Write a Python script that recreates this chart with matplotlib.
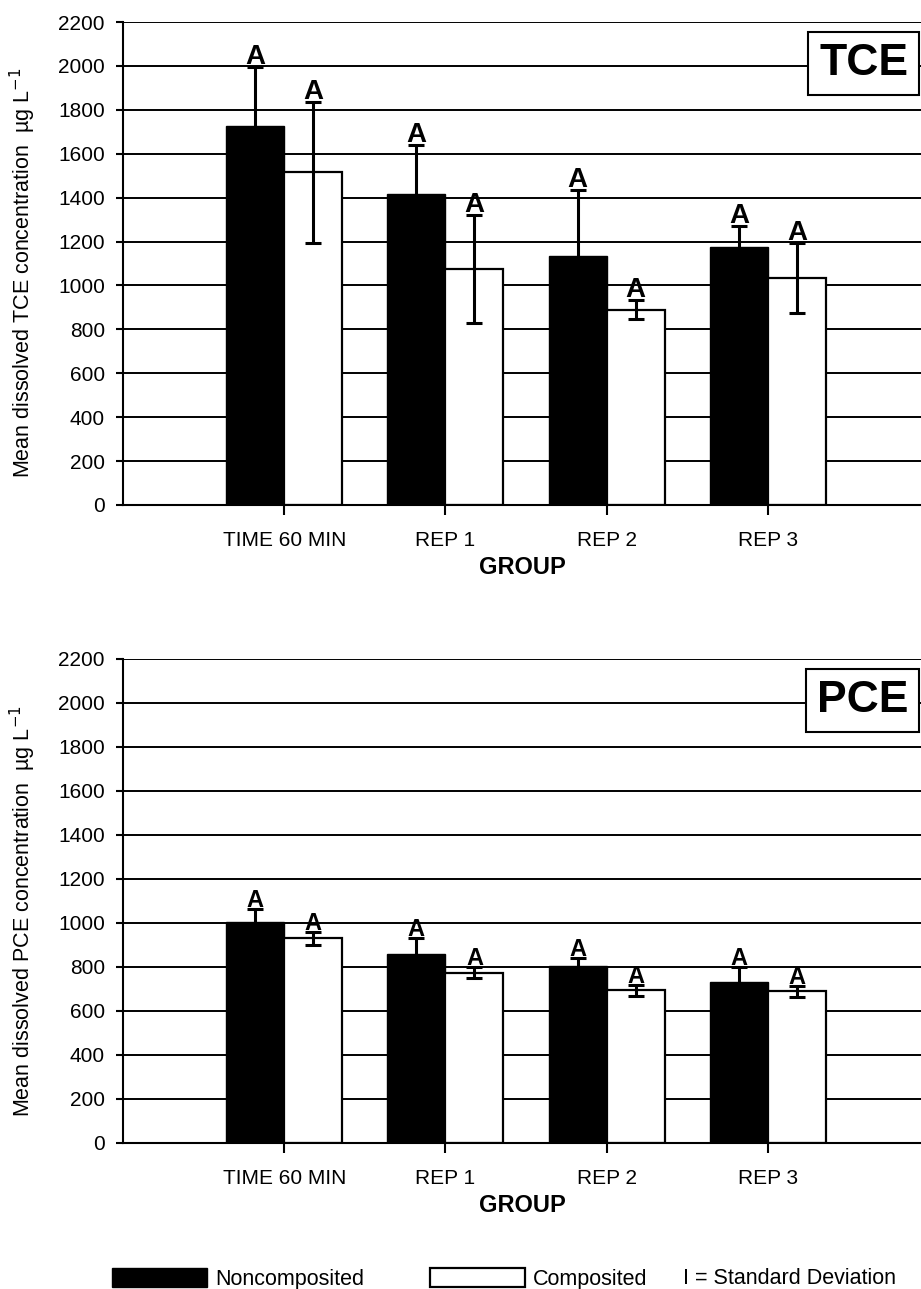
import matplotlib
matplotlib.use("Agg")
import matplotlib.pyplot as plt
import numpy as np

plt.rcParams['font.family'] = ['Liberation Sans', 'DejaVu Sans']

groups = ["TIME 60 MIN", "REP 1", "REP 2", "REP 3"]

tce_non = [1727, 1417, 1134, 1175]
tce_non_sd = [270, 225, 300, 95]
tce_comp = [1515, 1075, 890, 1034]
tce_comp_sd = [320, 245, 45, 160]

pce_non = [1005, 860, 805, 730]
pce_non_sd = [60, 70, 35, 70]
pce_comp = [930, 775, 695, 690]
pce_comp_sd = [30, 25, 25, 25]

letters = "A"

fig = plt.figure(figsize=(9.21, 12.89), dpi=100)
W, H = 921, 1289


def panel(rect, non, non_sd, comp, comp_sd, name, asize):
    ax = fig.add_axes(rect)
    x = np.arange(1, len(groups) + 1)
    w = 0.36
    b1 = ax.bar(x - w / 2, non, w, color='black', edgecolor='black', zorder=2)
    b2 = ax.bar(x + w / 2, comp, w, color='white', edgecolor='black', linewidth=1.6, zorder=2)
    ax.errorbar(x - w / 2, non, yerr=non_sd, fmt='none', ecolor='black',
                elinewidth=2.2, capsize=6, capthick=2.2, zorder=3)
    ax.errorbar(x + w / 2, comp, yerr=comp_sd, fmt='none', ecolor='black',
                elinewidth=2.2, capsize=6, capthick=2.2, zorder=3)
    for xi, v, s in zip(x - w / 2, non, non_sd):
        ax.text(xi, v + s - 14, letters, ha='center', va='bottom', fontsize=asize,
                fontweight='bold', zorder=4)
    for xi, v, s in zip(x + w / 2, comp, comp_sd):
        ax.text(xi, v + s - 14, letters, ha='center', va='bottom', fontsize=asize,
                fontweight='bold', zorder=4)

    ax.set_ylim(0, 2200)
    ax.set_xlim(0, 4.95)
    ax.set_yticks(np.arange(0, 2201, 200))
    ax.yaxis.grid(True, color='black', linewidth=1.4)
    ax.set_axisbelow(True)
    ax.set_xticks(x)
    ax.set_xticklabels(groups, fontsize=15)
    ax.tick_params(axis='x', length=7, width=1.5, pad=12)
    ax.tick_params(axis='y', length=5, width=1.5, pad=8, labelsize=15)
    for sp in ['top', 'right']:
        ax.spines[sp].set_visible(False)
    ax.spines['left'].set_linewidth(1.5)
    ax.spines['bottom'].set_linewidth(1.5)
    ax.set_xlabel("GROUP", fontsize=17, fontweight='bold', labelpad=4)
    ax.set_ylabel("Mean dissolved " + name + r" concentration  µg L$^{-1}$", fontsize=15.5)
    ax.yaxis.set_label_coords(-0.107, 0.48)
    ax.text(0.984, 2010, name, transform=ax.get_yaxis_transform(), ha='right', va='center',
            fontsize=32, fontweight='bold', zorder=5,
            bbox=dict(boxstyle='square,pad=0.25', facecolor='white', edgecolor='black', linewidth=1.5))
    return b1, b2


left = 123 / W
width = 1 - left
b1, b2 = panel([left, 1 - 505 / H, width, 483 / H], tce_non, tce_non_sd, tce_comp, tce_comp_sd, "TCE", 20)
panel([left, 1 - 1143 / H, width, 484 / H], pce_non, pce_non_sd, pce_comp, pce_comp_sd, "PCE", 17)

leg_y = 1 - 1279 / H
for handle, label, x0 in [(b1, "Noncomposited", 112), (b2, "Composited", 430)]:
    # fig.legend already attaches itself to the figure
    fig.legend([handle], [label], loc='center left', bbox_to_anchor=(x0 / W, leg_y),
               frameon=False, fontsize=15.5, handlelength=4.4, handleheight=0.95,
               handletextpad=0.4, borderpad=0, borderaxespad=0)
fig.text(683 / W, leg_y, "I = Standard Deviation", ha='left', va='center', fontsize=15.5)

fig.savefig("out.png", dpi=100)
